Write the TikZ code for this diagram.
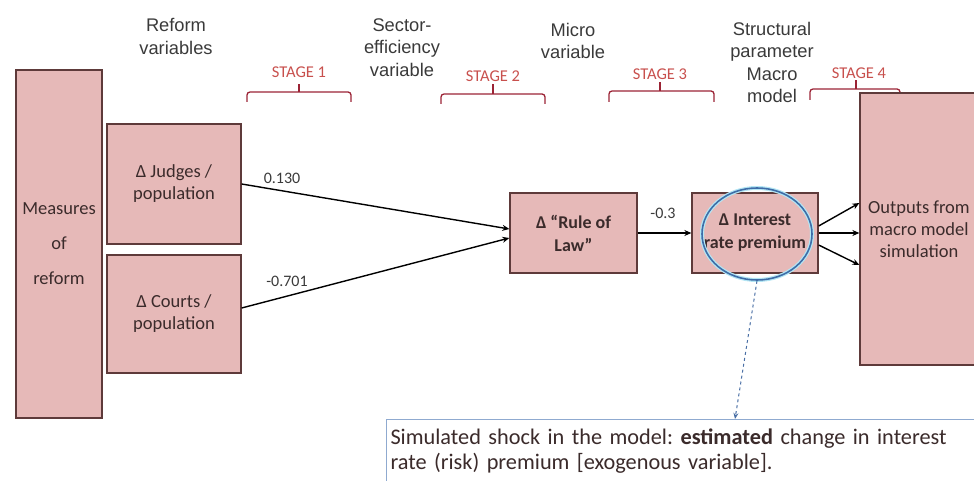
\documentclass[tikz,border=0pt]{standalone}
\usepackage{fontspec}
\setmainfont{Carlito}
\newfontfamily\headfont{Liberation Sans}
\usetikzlibrary{arrows.meta,calc,shapes.geometric}
\frenchspacing
\definecolor{boxfill}{HTML}{E6B9B8}
\definecolor{boxline}{HTML}{5E3A3A}
\definecolor{boxtext}{HTML}{3B2B2B}
\definecolor{stagered}{HTML}{C8504D}
\definecolor{bracered}{HTML}{9B2335}
\definecolor{headgray}{HTML}{3A3A3A}
\definecolor{ringblue}{HTML}{3E6DA8}
\definecolor{ringglow}{HTML}{B4E6F4}
\definecolor{noteline}{HTML}{8FAAD0}
\definecolor{dashblue}{HTML}{4A6FA5}

\begin{document}
\begin{tikzpicture}[x=1pt,y=-1pt,
  box/.style={draw=boxline, line width=1.3pt, fill=boxfill, text=boxtext,
    font=\fontsize{18.5}{22}\selectfont, align=center, inner sep=0pt},
  head/.style={text=headgray, font=\headfont\fontsize{18.3}{22.5}\selectfont,
    align=center, inner sep=0pt},
  stagelbl/.style={text=stagered, font=\fontsize{16.5}{18}\selectfont, inner sep=0pt},
  bracket/.style={draw=bracered, line width=1.3pt, rounded corners=3pt},
  flow/.style={draw=black, line width=1.4pt, -{Stealth[length=7pt,width=6pt]}},
  coef/.style={text=headgray, font=\fontsize{16}{18}\selectfont, inner sep=0pt},
  ring/.style={ellipse, draw=ringblue, line width=1.6pt,
    preaction={draw=ringglow, line width=4pt}, inner sep=0pt},
  note/.style={draw=noteline, line width=1pt, fill=white, text=boxtext,
    font=\fontsize{22.3}{25}\selectfont, align=left, text width=620pt,
    inner xsep=4pt, inner ysep=9pt, text depth=30pt}
]
\useasboundingbox (0,0) rectangle (974,481);
\clip (0,0) rectangle (974,481);

% column headings
\node[head] (hreform) at (176,36.5) {Reform\\variables};
\node[head] (hsector) at (402,47.5) {Sector-\\efficiency\\variable};
\node[head] (hmicro)  at (573,41)   {Micro\\variable};
\node[head] (hmacro)  at (772,62.5) {Structural\\parameter\\Macro\\model};

% stage brackets
\node[stagelbl] (s1) at (299,72) {STAGE 1};
\node[stagelbl] (s2) at (493,76) {STAGE 2};
\node[stagelbl] (s3) at (660,74) {STAGE 3};
\node[stagelbl] (s4) at (859,73) {STAGE 4};
\draw[bracket] (247,102) -- (247,92) -- (351,92) -- (351,102);
\draw[bracket] (299,92) -- (299,84);
\draw[bracket] (441,104) -- (441,94) -- (545,94) -- (545,104);
\draw[bracket] (493,94) -- (493,84);
\draw[bracket] (609,102) -- (609,91) -- (714,91) -- (714,102);
\draw[bracket] (660,91) -- (660,82);
\draw[bracket] (810,100) -- (810,89) -- (900,89) -- (900,100);
\draw[bracket] (856,89) -- (856,80);

% boxes
\node[box, minimum width=86pt, minimum height=348pt,
  font=\fontsize{18.5}{35}\selectfont] (measures) at (59,244) {Measures\\of\\reform};
\node[box, minimum width=134pt, minimum height=120pt] (judges) at (174,184)
  {Δ Judges /\\population};
\node[box, minimum width=134pt, minimum height=118pt] (courts) at (174,314)
  {Δ Courts /\\population};
\node[box, minimum width=127pt, minimum height=80pt,
  font=\bfseries\fontsize{18}{23}\selectfont] (rule) at (573.5,233)
  {Δ “Rule of\\Law”};
\node[box, minimum width=126pt, minimum height=80pt,
  font=\bfseries\fontsize{18}{23}\selectfont] (interest) at (755,233)
  {Δ Interest\\rate premium};
\node[box, minimum width=118pt, minimum height=272pt] (outputs) at (919,229)
  {Outputs from\\macro model\\simulation};

% highlight around the interest premium
\node[ring, minimum width=110pt, minimum height=92pt] (hl) at (757,234) {};

% connectors
\draw[flow] (judges.east) -- ($(rule.west)+(0,-4)$);
\draw[flow] ($(courts.east)+(0,-6)$) -- ($(rule.west)+(0,5)$);
\draw[flow] (rule.east) -- (interest.west);
\draw[flow] ($(interest.east)+(0,-7)$) -- ($(outputs.west)+(0,-26)$);
\draw[flow] (interest.east) -- ($(outputs.west)+(0,4)$);
\draw[flow] ($(interest.east)+(0,12)$) -- ($(outputs.west)+(0,36)$);

% coefficients
\node[coef] (c1) at (282,178) {0.130};
\node[coef] (c2) at (287,281) {-0.701};
\node[coef] (c3) at (663,213) {-0.3};

% explanatory note
\node[note, anchor=north west] (note) at (386,419)
  {Simulated shock in the model: \textbf{estimated} change in interest\\
   rate (risk) premium [exogenous variable].};
\coordinate (tip) at (735,419);
\draw[dashblue, line width=1pt, dashed, -{Stealth[length=6pt,width=5pt]}] (hl.south) -- (tip);
\end{tikzpicture}
\end{document}
